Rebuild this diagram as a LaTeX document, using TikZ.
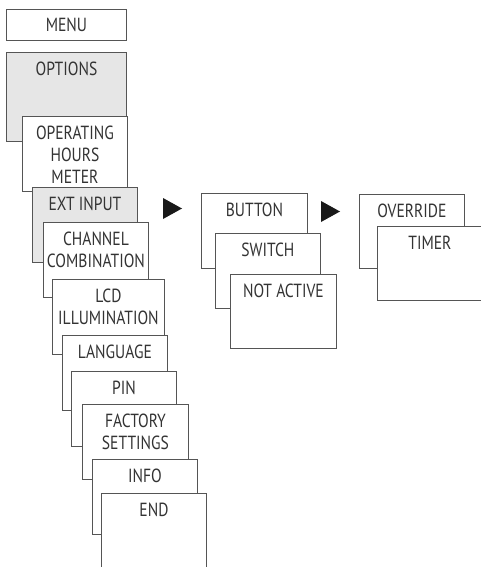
\documentclass[tikz,border=0pt]{standalone}
\usepackage{fontspec}
\setmainfont{PT Sans}[FakeStretch=0.82]
\definecolor{boxline}{HTML}{555555}
\definecolor{boxgray}{HTML}{E6E6E6}
\definecolor{labeltext}{HTML}{333333}

\tikzset{
  menubox/.style = {shape=rectangle, sharp corners, draw=boxline,
    line width=0.9pt, fill=white, anchor=north west,
    minimum width=105pt, minimum height=75pt, inner sep=0pt},
  graybox/.style = {menubox, fill=boxgray},
  boxtext/.style = {anchor=north, inner sep=0pt, yshift=-10pt,
    align=center, text=labeltext,
    font=\fontsize{19}{21.7}\selectfont},
  pointer/.style = {fill=black!90}
}

\begin{document}
\begin{tikzpicture}[x=1pt, y=-1pt]
  \useasboundingbox (0,0) rectangle (480,567);
  % main menu column
  \node[menubox, minimum width=120pt, minimum height=31pt] (menu) at (6,9) {};
  \node[boxtext, yshift=1pt] (menu text) at (menu.north) {MENU};
  \node[graybox, minimum width=120pt, minimum height=89pt] (options) at (6,52) {};
  \node[boxtext] (options text) at (options.north) {OPTIONS};
  \node[menubox] (hours) at (22,116) {};
  \node[boxtext] (hours text) at (hours.north) {OPERATING\\HOURS\\METER};
  \node[graybox] (ext) at (32,187) {};
  \node[boxtext] (ext text) at (ext.north) {EXT INPUT};
  \node[menubox] (channel) at (43,222) {};
  \node[boxtext] (channel text) at (channel.north) {CHANNEL\\COMBINATION};
  \node[menubox, minimum width=112pt] (lcd) at (52,279) {};
  \node[boxtext] (lcd text) at (lcd.north) {LCD\\ILLUMINATION};
  \node[menubox] (language) at (62,335) {};
  \node[boxtext] (language text) at (language.north) {LANGUAGE};
  \node[menubox] (pin) at (71,371) {};
  \node[boxtext] (pin text) at (pin.north) {PIN};
  \node[menubox, minimum width=106pt] (factory) at (82,404) {};
  \node[boxtext] (factory text) at (factory.north) {FACTORY\\SETTINGS};
  \node[menubox] (info) at (92,459) {};
  \node[boxtext] (info text) at (info.north) {INFO};
  \node[menubox] (end) at (101,493) {};
  \node[boxtext] (end text) at (end.north) {END};

  % ext input submenu
  \fill[pointer] (163,198) -- (182,208.5) -- (163,219) -- cycle;
  \node[menubox, minimum width=106pt] (button) at (201,193) {};
  \node[boxtext] (button text) at (button.north) {BUTTON};
  \node[menubox] (switch) at (215,233) {};
  \node[boxtext] (switch text) at (switch.north) {SWITCH};
  \node[menubox, minimum width=106pt, minimum height=74pt] (inactive) at (230,274) {};
  \node[boxtext] (inactive text) at (inactive.north) {NOT ACTIVE};

  % button submenu
  \fill[pointer] (321,201) -- (340,211.5) -- (321,222) -- cycle;
  \node[menubox, minimum height=74pt] (override) at (359,194) {};
  \node[boxtext] (override text) at (override.north) {OVERRIDE};
  \node[menubox, minimum height=74pt] (timer) at (377,226) {};
  \node[boxtext] (timer text) at (timer.north) {TIMER};
\end{tikzpicture}
\end{document}
